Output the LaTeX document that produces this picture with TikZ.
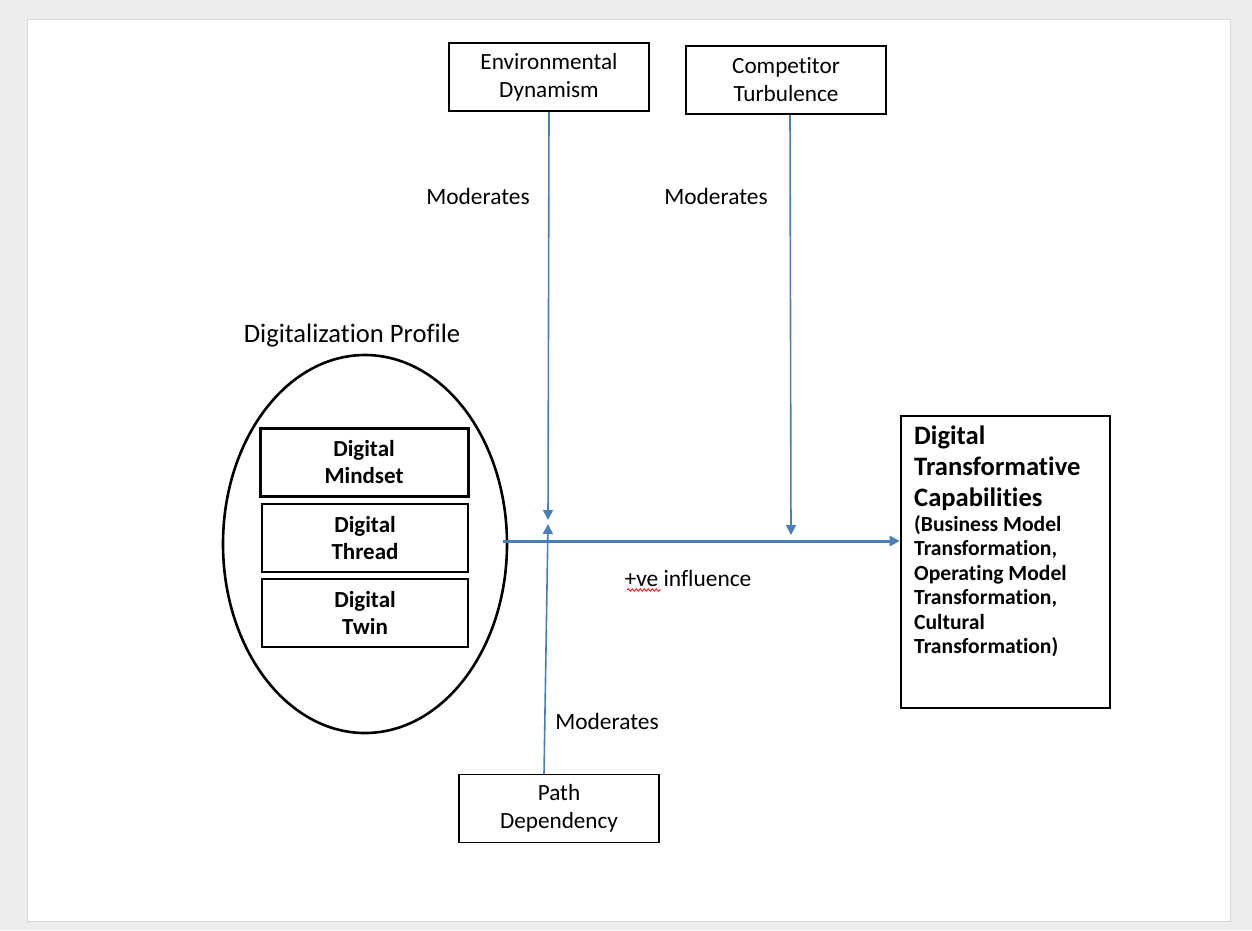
\documentclass[tikz,border=0pt]{standalone}
\usepackage{fontspec}
\setmainfont[RawFeature=-liga]{Carlito}
\usetikzlibrary{arrows.meta,shapes.geometric,calc,decorations.pathmorphing}
\definecolor{flowblue}{HTML}{4A7EBB}
\definecolor{pagebg}{HTML}{ECECEC}
\begin{document}
\begin{tikzpicture}[x=1pt,y=-1pt,
  box/.style={draw=black,line width=1.5pt,minimum width=200pt,minimum height=68pt,
    inner sep=0pt,align=center,font=\fontsize{23.2}{28}\selectfont},
  inner/.style={draw=black,line width=1.5pt,minimum width=206pt,minimum height=68pt,
    inner sep=0pt,align=center,font=\fontsize{23}{27}\selectfont\bfseries},
  lbl/.style={font=\fontsize{23.4}{26}\selectfont,inner sep=0pt},
  flow/.style={draw=flowblue,line width=1.6pt,-{Triangle[length=10pt,width=10pt]}},
  mainflow/.style={draw=flowblue,line width=3pt,-{Triangle[length=10pt,width=10pt]}}]
  % page and its surround
  \fill[pagebg] (0,0) rectangle (1252,930);
  \fill[white,draw={rgb,255:red,215;green,215;blue,215},line width=1pt] (27,19) rectangle (1230,921);
  \useasboundingbox (0,0) rectangle (1252,930);

  % moderator boxes
  \node[box] (env)  at (549,77)    {Environmental\\Dynamism};
  \node[box] (comp) at (786,80)    {Competitor\\Turbulence};
  \node[box] (path) at (559,808.5) {Path\\Dependency};

  % digitalization profile
  \node[font=\fontsize{26.6}{30}\selectfont,inner sep=0pt] (dptitle) at (352,336) {Digitalization Profile};
  \node[draw=black,line width=2.6pt,ellipse,minimum width=284pt,minimum height=378pt,inner sep=0pt] (ell) at (365,544) {};
  \node[inner,line width=3pt,minimum width=208pt] (mind) at (364,462) {Digital\\Mindset};
  \node[inner] (thread) at (365,538) {Digital\\Thread};
  \node[inner] (twin)   at (365,613) {Digital\\Twin};

  % outcome box: heading and list of capabilities
  \node[draw=black,line width=2.6pt,minimum width=209pt,minimum height=292pt,inner sep=0pt] (cap) at (1005.5,562) {};
  \node[anchor=north west,align=left,inner sep=0pt,font=\bfseries\fontsize{26.6}{31}\selectfont] (captitle) at (914,426)
    {Digital\\Transformative\\Capabilities};
  \node[anchor=north west,align=left,inner sep=0pt,font=\bfseries\fontsize{21.6}{24.5}\selectfont] (capsub) at (914,515)
    {(Business Model\\Transformation,\\Operating Model\\Transformation,\\Cultural\\Transformation)};

  % connectors
  \coordinate (hstart) at ($(ell.east)+(-5,-3)$);
  \coordinate (envtip) at (548,520);
  \coordinate (pathtip) at (548,524);
  \coordinate (comptip) at (791,535);
  \draw[mainflow] (hstart) -- (hstart -| cap.west);
  \draw[flow] (env.south) -- (envtip);
  \draw[flow] ($(path.north)+(-15,0)$) -- (pathtip);
  \draw[flow] ($(comp.south)+(4,0)$) -- (comptip);

  % labels
  \node[lbl] (m1) at (478,196) {Moderates};
  \node[lbl] (m2) at (716,196) {Moderates};
  \node[lbl] (m3) at (607,721) {Moderates};
  \node[lbl] (infl) at (688,578) {+ve influence};
  \draw[red,line width=0.8pt,decorate,decoration={snake,amplitude=1.2pt,segment length=4pt}]
    (627,590) -- (661,590);
\end{tikzpicture}
\end{document}
